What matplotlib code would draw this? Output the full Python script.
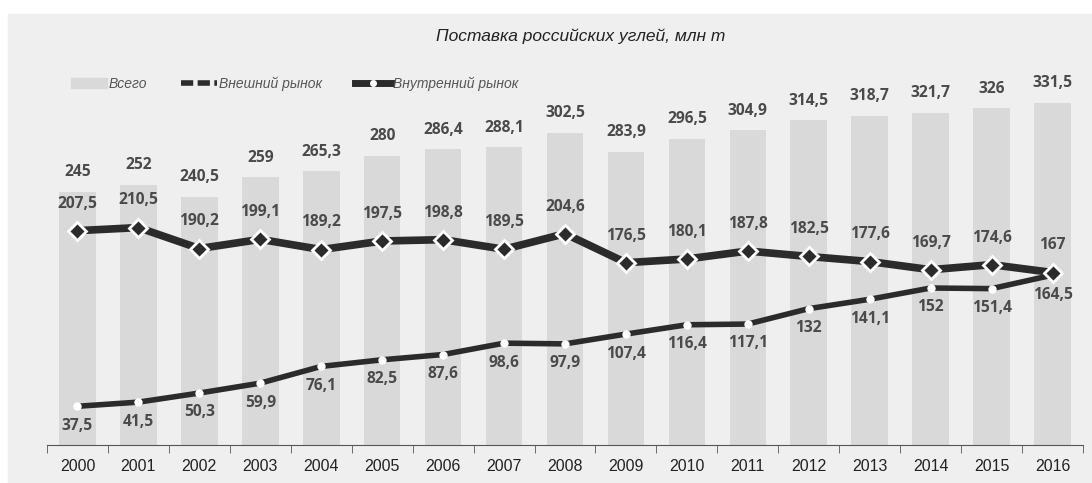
import matplotlib.pyplot as plt
from matplotlib.patches import Patch, Rectangle
from matplotlib.lines import Line2D

years = [str(y) for y in range(2000, 2017)]
total = [245, 252, 240.5, 259, 265.3, 280, 286.4, 288.1, 302.5, 283.9,
         296.5, 304.9, 314.5, 318.7, 321.7, 326, 331.5]
domestic = [207.5, 210.5, 190.2, 199.1, 189.2, 197.5, 198.8, 189.5, 204.6,
            176.5, 180.1, 187.8, 182.5, 177.6, 169.7, 174.6, 167]
foreign = [37.5, 41.5, 50.3, 59.9, 76.1, 82.5, 87.6, 98.6, 97.9, 107.4,
           116.4, 117.1, 132, 141.1, 152, 151.4, 164.5]

BG = '#efefef'
BAR = '#d9d9d9'
LINE = '#2b2b2b'
LBL = '#4a4a4a'
NARROW = ['Liberation Sans Narrow', 'Liberation Sans', 'DejaVu Sans']
NUMF = ['Open Sans', 'DejaVu Sans']


def fmt(v):
    return f"{v:g}".replace('.', ',')


fig = plt.figure(figsize=(10.92, 4.83), dpi=100, facecolor='white')
fig.patches.append(Rectangle((8 / 1092, 0), 1, (483 - 14) / 483,
                             transform=fig.transFigure, color=BG, zorder=-10))

ax = fig.add_axes([47 / 1092, 38 / 483, 1036 / 1092, 392.5 / 483])
ax.set_facecolor('none')
x = list(range(len(years)))

ax.bar(x, total, width=0.6, color=BAR, zorder=1)
ax.plot(x, foreign, color=LINE, lw=4, zorder=3, solid_capstyle='round',
        marker='o', ms=5, mfc='white', mec='white')
ax.plot(x, domestic, color=LINE, lw=5.5, zorder=4, solid_capstyle='round',
        marker='D', ms=9, mfc=LINE, mec='white', mew=2)

lab = dict(textcoords='offset points', ha='center', va='center',
           fontsize=11.2, color=LBL, family=NUMF, weight='bold')
for i in x:
    ax.annotate(fmt(total[i]), (i, total[i]), xytext=(0, 14), **lab)
    ax.annotate(fmt(domestic[i]), (i, domestic[i]), xytext=(0, 19.5), **lab)
    ax.annotate(fmt(foreign[i]), (i, foreign[i]), xytext=(0, -14), **lab)

ax.set_xlim(-0.5, len(years) - 0.5)
ax.set_ylim(0, 380)
for s in ['left', 'right', 'top']:
    ax.spines[s].set_visible(False)
ax.spines['bottom'].set_color('#555555')
ax.set_yticks([])
ax.set_xticks(x)
ax.set_xticklabels(years, family=NARROW, fontsize=11.5, color='#222222')
ax.tick_params(axis='x', which='major', length=0, pad=10)
ax.set_xticks([i - 0.5 for i in range(len(years) + 1)], minor=True)
ax.tick_params(axis='x', which='minor', length=6, color='#555555')

fig.text(0.532, 0.925, 'Поставка российских углей, млн т', ha='center', va='center',
         fontsize=12.5, style='italic', family=NARROW, color='#222222')

handles = [
    Patch(color=BAR),
    Line2D([], [], color=LINE, lw=4, ls=(0, (2.2, 0.8))),
    Line2D([], [], color=LINE, lw=5, marker='o', ms=4, mfc='white', mec='white'),
]
leg = fig.legend(handles, ['Всего', 'Внешний рынок', 'Внутренний рынок'],
                 loc='center left', bbox_to_anchor=(58 / 1092, 1 - 84 / 483),
                 ncol=3, frameon=False, handlelength=2.6, handletextpad=0.15,
                 columnspacing=2.4,
                 prop={'family': NARROW, 'style': 'italic', 'size': 10})
for t in leg.get_texts():
    t.set_color('#555555')

fig.savefig('out.png', dpi=100, facecolor='white')
